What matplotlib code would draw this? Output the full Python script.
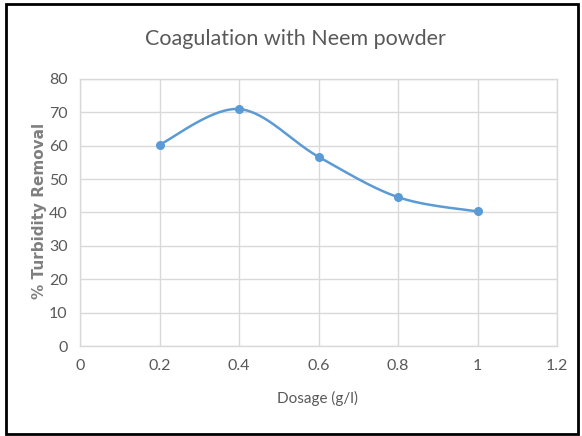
import numpy as np
import matplotlib
matplotlib.use("Agg")
import matplotlib.pyplot as plt
from matplotlib.patches import Rectangle

dosage = [0.2, 0.4, 0.6, 0.8, 1.0]
removal = [60.3, 71.0, 56.7, 44.6, 40.3]
x_ticks = [0, 0.2, 0.4, 0.6, 0.8, 1, 1.2]
x_tick_labels = ["0", "0.2", "0.4", "0.6", "0.8", "1", "1.2"]
y_ticks = [0, 10, 20, 30, 40, 50, 60, 70, 80]

def smooth(xs, ys, n=40):
    P = np.column_stack([xs, ys]).astype(float)
    out = []
    for i in range(len(P) - 1):
        p0 = P[i - 1] if i > 0 else P[i]
        p1 = P[i]
        p2 = P[i + 1]
        p3 = P[i + 2] if i + 2 < len(P) else P[i + 1]
        c1 = p1 + (p2 - p0) / 6.0
        c2 = p2 - (p3 - p1) / 6.0
        t = np.linspace(0, 1, n)[:, None]
        seg = ((1 - t) ** 3) * p1 + 3 * ((1 - t) ** 2) * t * c1 + 3 * (1 - t) * t ** 2 * c2 + t ** 3 * p2
        out.append(seg if i == 0 else seg[1:])
    S = np.vstack(out)
    return S[:, 0], S[:, 1]

fig = plt.figure(figsize=(5.82, 4.36), dpi=100)
W, H = 582, 436
ax = fig.add_axes([80 / W, 1 - 346 / H, (557 - 80) / W, (346 - 79) / H])

grid_c = "#d9d9d9"
text_c = "#595959"
font = "Lato"

sx, sy = smooth(dosage, removal)
ax.plot(sx, sy, color="#5b9bd5", lw=1.8, solid_capstyle="round", zorder=3)
ax.plot(dosage, removal, "o", color="#5b9bd5", ms=5.5, zorder=4)

ax.set_xlim(0, 1.2)
ax.set_ylim(0, 80)
ax.set_xticks(x_ticks)
ax.set_xticklabels(x_tick_labels)
ax.set_yticks(y_ticks)
ax.grid(True, color=grid_c, lw=1)
ax.set_axisbelow(True)
for s in ax.spines.values():
    s.set_color(grid_c)
    s.set_linewidth(1)
ax.tick_params(length=0, colors=text_c, labelsize=11.5, pad=9)
for lab in ax.get_xticklabels() + ax.get_yticklabels():
    lab.set_family(font)

fig.text(295 / W, 1 - 39 / H, "Coagulation with Neem powder", ha="center", va="center",
         fontsize=15.5, color=text_c, family=font)
fig.text(318 / W, 1 - 398 / H, "Dosage (g/l)", ha="center", va="center",
         fontsize=11, color=text_c, family=font)
fig.text(40 / W, 1 - 211 / H, "% Turbidity Removal", ha="center", va="center",
         rotation=90, fontsize=11, color="#7f7f7f", family="DejaVu Sans", fontweight="bold")

fig.patches.append(Rectangle((6 / W, 2 / H), 572 / W, 430 / H, transform=fig.transFigure,
                             fill=False, edgecolor="black", lw=2))

fig.savefig("out.png", dpi=100)
